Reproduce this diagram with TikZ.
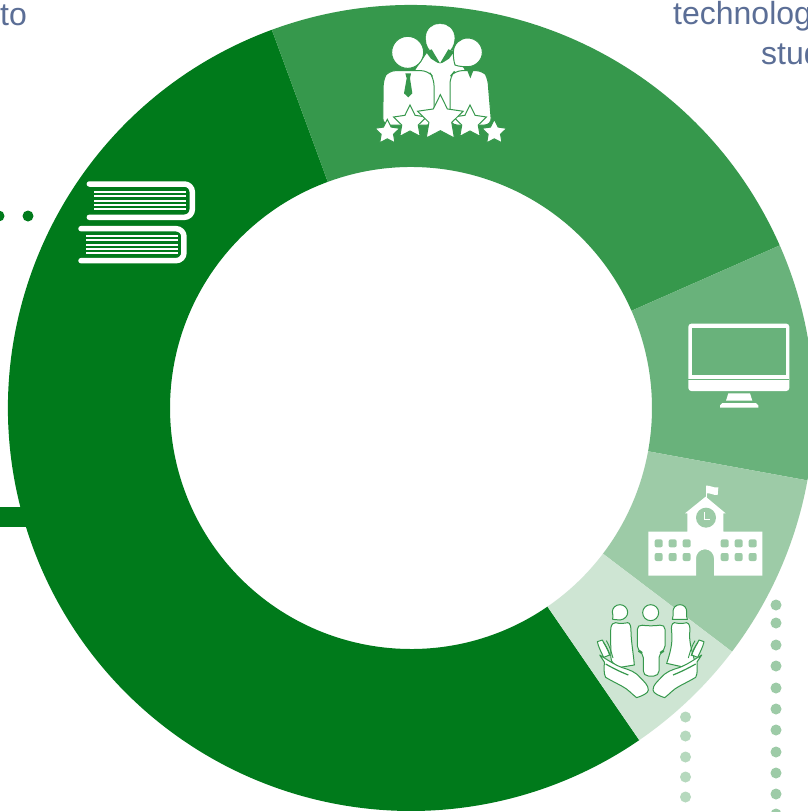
\documentclass[tikz,border=0pt]{standalone}
\usepackage{fontspec}
\setmainfont{Liberation Sans}
\definecolor{ringA}{HTML}{007A1B}
\definecolor{ringB}{HTML}{36984C}
\definecolor{ringC}{HTML}{69B27B}
\definecolor{ringD}{HTML}{9DCBA7}
\definecolor{ringE}{HTML}{CEE5D3}
\definecolor{dotE}{HTML}{B6D9BE}
\definecolor{labelblue}{HTML}{5B6E96}
\newcommand\ringwedge[3]{\fill[#3] (#1:403) arc[start angle=#1,end angle=#2,radius=403] -- (#2:241) arc[start angle=#2,end angle=#1,radius=241] -- cycle;}
\newcommand\starat[4]{\begin{scope}[shift={(#1,#2)}]
\filldraw[white,draw=#4,line width=1pt,line join=miter] (-90:#3) -- (-54:#3*0.5) -- (-18:#3) -- (18:#3*0.5) -- (54:#3) -- (90:#3*0.5) -- (126:#3) -- (162:#3*0.5) -- (198:#3) -- (234:#3*0.5) -- cycle;
\end{scope}}
\newcommand\bookpages[1]{\foreach \yy in {#1}{\draw[white,line width=1.9pt] (103,\yy) -- (378,\yy);}}
\newcommand\handpath{
\filldraw[hfill] (37,155) -- (52,150) .. controls (60,165) and (68,178) .. (74,195) -- (56,202) .. controls (48,185) and (40,170) .. (37,155) -- cycle;
\draw[hline] (55,157) .. controls (62,165) and (70,180) .. (76,198);
\draw[hline] (64,152) .. controls (72,165) and (78,182) .. (84,204);
\filldraw[hfill] (44,195) .. controls (68,210) and (90,225) .. (112,233) .. controls (135,240) and (150,245) .. (165,262) .. controls (178,276) and (190,285) .. (190,300) .. controls (190,310) and (170,318) .. (155,323) .. controls (140,312) and (130,298) .. (110,288) .. controls (95,280) and (75,270) .. (62,262) .. controls (55,250) and (58,232) .. (58,216) -- cycle;
\draw[hline,line width=1.2pt] (62,222) .. controls (85,235) and (105,245) .. (130,255);
}
\tikzset{
  lbl/.style={text=labelblue,font=\fontsize{32}{38}\selectfont,inner sep=0pt,anchor=base west},
  hfill/.style={fill=white,draw=ringB,line width=1pt,line join=round},
  hline/.style={draw=ringB,line width=0.9pt}
}
\begin{document}
\begin{tikzpicture}[x=1pt,y=-1pt]
\useasboundingbox (0,0) rectangle (808,812);
\clip (0,0) rectangle (808,812);
\fill[white] (0,0) rectangle (808,812);
% labels
\node[lbl] (tolabel) at (0,25) {to};
\node[lbl] (techlabel) at (673,24) {technolog};
\node[lbl] (studlabel) at (761,64) {stud};
% left marks
\fill[ringA] (-1,216) circle[radius=5.5];
\fill[ringA] (28,216) circle[radius=5.5];
\fill[ringA] (0,507) rectangle (40,527);
% right dots
\foreach \yy in {605,623,645,666,688,709,730,752,773,794,814}{\fill[ringD] (776,\yy) circle[radius=5.5];}
\foreach \yy in {717,736,757,777,797}{\fill[dotE] (685.5,\yy) circle[radius=5.5];}
% ring
\begin{scope}[shift={(411,408)},yscale=-1]
\ringwedge{110.2}{304.5}{ringA}
\ringwedge{23.8}{110.2}{ringB}
\ringwedge{-10.35}{23.8}{ringC}
\ringwedge{-37.2}{-10.35}{ringD}
\ringwedge{-55.5}{-37.2}{ringE}
\end{scope}
% people and stars
\begin{scope}[shift={(360,10)},scale=1/3]
\filldraw[white,draw=ringB,line width=1pt] (165,178) -- (205,120) -- (280,120) -- (315,178) -- (285,300) -- (200,300) -- cycle;
\filldraw[white] (240,42) .. controls (262,42) and (283,58) .. (283,85) .. controls (283,105) and (272,122) .. (258,130) -- (222,130) .. controls (208,122) and (198,105) .. (198,85) .. controls (198,58) and (218,42) .. (240,42) -- cycle;
\fill[ringB] (197,125) -- (215,118) -- (240,160) -- (232,158) -- (213,146) -- cycle;
\fill[ringB] (283,125) -- (265,118) -- (240,160) -- (248,158) -- (267,146) -- cycle;
\filldraw[white,draw=ringB,line width=1pt] (285,165) .. controls (282,155) and (280,145) .. (280,127) .. controls (280,102) and (300,84) .. (323,84) .. controls (348,84) and (367,104) .. (367,127) .. controls (367,150) and (348,170) .. (323,170) .. controls (310,170) and (298,170) .. (285,165) -- cycle;
\filldraw[white,draw=ringB,line width=1pt,rounded corners=7pt] (270,345) -- (270,200) -- (285,182) -- (370,182) -- (383,200) -- (395,345) -- cycle;
\fill[ringB] (322,182) -- (340,182) -- (331,205) -- cycle;
\filldraw[white,draw=ringB,line width=1pt] (143,127) circle[radius=48];
\filldraw[white,draw=ringB,line width=1pt,rounded corners=7pt] (68,345) -- (70,205) -- (85,182) -- (205,182) -- (222,205) -- (222,345) -- cycle;
\fill[ringB] (136,190) -- (153,190) -- (150,205) -- (157,250) -- (145,262) -- (132,250) -- (140,205) -- cycle;
\starat{82}{367}{39}{ringB}
\starat{403}{367}{39}{ringB}
\starat{150}{337}{52}{ringB}
\starat{330}{337}{52}{ringB}
\starat{241}{326}{72}{ringB}
\end{scope}
% books
\begin{scope}[shift={(60,170)},scale=1/3]
\draw[white,line width=5.5pt,line cap=round,line join=round,rounded corners=8pt] (88,42) -- (397,42) -- (397,142) -- (88,142);
\bookpages{66,79,92,105,118}
\begin{scope}[shift={(-25,134)}]
\draw[white,line width=5.5pt,line cap=round,line join=round,rounded corners=8pt] (88,42) -- (397,42) -- (397,138) -- (88,138);
\bookpages{64,77,90,103,114}
\end{scope}
\end{scope}
% monitor
\begin{scope}[shift={(670,310)},scale=1/3]
\fill[white,rounded corners=3pt] (55,41) rectangle (358,243);
\fill[ringC] (67,53) rectangle (347,196);
\draw[ringC,line width=1pt] (55,208) -- (358,208);
\fill[white] (175,250) -- (240,250) -- (247,272) -- (168,272) -- cycle;
\fill[white] (150,293) -- (265,293) -- (265,286) -- (258,279) -- (157,279) -- (150,286) -- cycle;
\end{scope}
% school
\begin{scope}[shift={(630,475)},scale=1/3]
\fill[white] (55,170) -- (172,170) -- (172,115) -- (165,115) -- (227,65) -- (287,115) -- (280,115) -- (280,170) -- (397,170) -- (397,302) -- (252,302) -- (252,250) arc[start angle=0,end angle=-180,radius=27] -- (198,302) -- (55,302) -- cycle;
\draw[white,line width=1pt] (228,68) -- (228,32);
\fill[white] (228,32) .. controls (240,30) and (250,40) .. (265,37) -- (263,60) .. controls (250,62) and (240,52) .. (228,55) -- cycle;
\fill[ringD] (228,128) circle[radius=30];
\draw[white,line width=1.6pt] (224,112) -- (224,134) -- (241,134);
\foreach \xx in {86,128,170,284,326,368}{\foreach \yy in {205,246}{
\fill[ringD,rounded corners=2pt] (\xx-12,\yy-12) rectangle (\xx+12,\yy+12);}}
\end{scope}
% family in hands
\begin{scope}[shift={(585,590)},scale=1/3]
\filldraw[hfill] (105,44) .. controls (118,44) and (128,55) .. (128,67) .. controls (128,78) and (120,88) .. (105,90) -- (83,88) .. controls (86,80) and (82,72) .. (82,65) .. controls (82,54) and (92,44) .. (105,44) -- cycle;
\filldraw[hfill] (92,98) .. controls (105,102) and (118,100) .. (128,98) .. controls (136,98) and (138,110) .. (138,125) .. controls (138,150) and (145,190) .. (148,225) -- (105,232) .. controls (90,225) and (78,218) .. (78,205) .. controls (78,170) and (75,130) .. (78,112) .. controls (80,102) and (85,98) .. (92,98) -- cycle;
\filldraw[hfill] (197,68) circle[radius=24];
\filldraw[hfill,rounded corners=5pt] (157,103) .. controls (185,108) and (210,108) .. (240,103) -- (240,183) -- (222,188) -- (222,258) -- (175,258) -- (175,188) -- (157,183) -- cycle;
\filldraw[hfill] (285,44) .. controls (298,44) and (305,54) .. (305,65) .. controls (305,75) and (303,80) .. (307,88) -- (262,88) .. controls (266,80) and (264,72) .. (264,64) .. controls (264,54) and (272,44) .. (285,44) -- cycle;
\filldraw[hfill] (268,98) .. controls (280,101) and (295,101) .. (305,98) .. controls (315,100) and (316,115) .. (314,130) .. controls (312,155) and (322,190) .. (330,215) -- (290,230) -- (245,220) .. controls (255,190) and (264,160) .. (260,125) .. controls (258,110) and (260,100) .. (268,98) -- cycle;
\handpath
\begin{scope}[shift={(394,0)},xscale=-1]
\handpath
\end{scope}
\end{scope}
\end{tikzpicture}
\end{document}
